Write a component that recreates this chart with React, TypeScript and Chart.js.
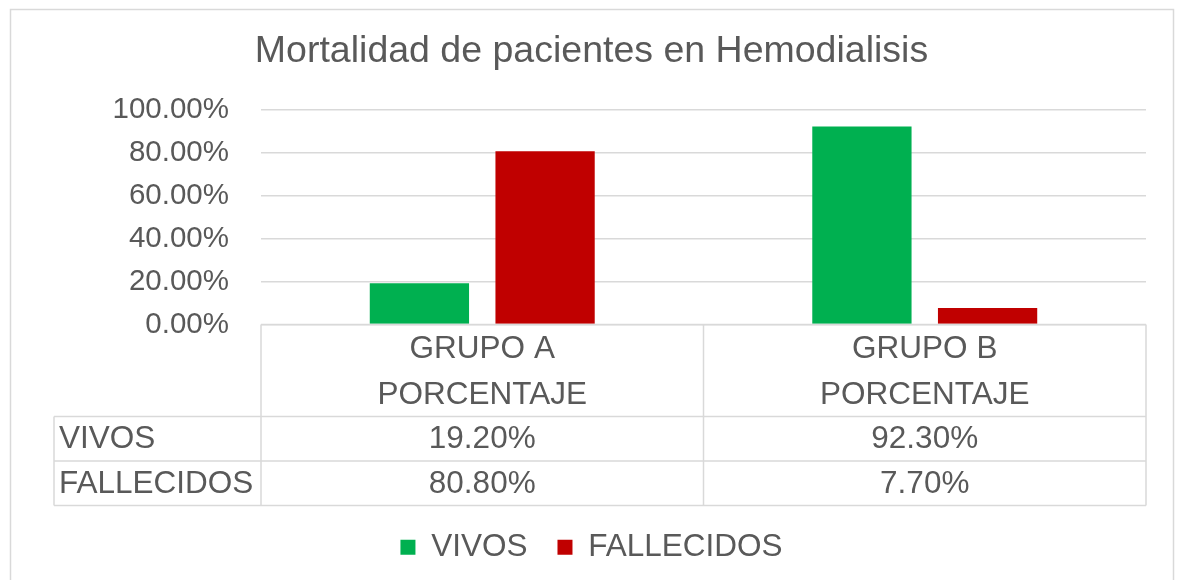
import React, { useEffect, useRef } from "react";
import { Chart, registerables } from "chart.js";

Chart.register(...registerables);

const title = "Mortalidad de pacientes en Hemodialisis";
const categories = [
  ["GRUPO A", "PORCENTAJE"],
  ["GRUPO B", "PORCENTAJE"],
];
const seriesNames = ["VIVOS", "FALLECIDOS"];
const vivos = [19.2, 92.3];
const fallecidos = [80.8, 7.7];
const yMin = 0;
const yMax = 100;
const yStep = 20;

const TEXT = "#595959";
const GRID = "#D9D9D9";
const GREEN = "#00B050";
const RED = "#C00000";
const FONT = "'Liberation Sans', Arial, sans-serif";
const FS = 31.5;

const fmt = (v: number) => v.toFixed(2) + "%";

const tablePlugin = {
  id: "dataTable",
  beforeDraw(chart: any) {
    const ctx = chart.ctx;
    ctx.save();
    ctx.fillStyle = "#ffffff";
    ctx.fillRect(0, 0, chart.width, chart.height);
    ctx.strokeStyle = GRID;
    ctx.lineWidth = 1.5;
    ctx.strokeRect(10.5, 9.5, 1163, 600);
    ctx.restore();
  },
  afterDraw(chart: any) {
    const ctx = chart.ctx;
    const { left, right, bottom } = chart.chartArea;
    const x = chart.scales.x;
    const n = categories.length;
    const bounds: number[] = [left];
    for (let i = 0; i < n - 1; i++) {
      bounds.push((x.getPixelForValue(i) + x.getPixelForValue(i + 1)) / 2);
    }
    bounds.push(right);
    const headerBottom = bottom + 92;
    const rowH = 44.5;
    const rows = [vivos, fallecidos];
    const tableBottom = headerBottom + rowH * rows.length;
    const labelLeft = 54;

    ctx.save();
    ctx.strokeStyle = GRID;
    ctx.lineWidth = 1.5;
    ctx.beginPath();
    ctx.moveTo(left, bottom);
    ctx.lineTo(right, bottom);
    bounds.forEach((b) => {
      ctx.moveTo(b, bottom);
      ctx.lineTo(b, tableBottom);
    });
    ctx.moveTo(labelLeft, headerBottom);
    ctx.lineTo(labelLeft, tableBottom);
    for (let r = 0; r <= rows.length; r++) {
      const y = headerBottom + rowH * r;
      ctx.moveTo(labelLeft, y);
      ctx.lineTo(right, y);
    }
    ctx.stroke();

    ctx.fillStyle = TEXT;
    ctx.font = `${FS}px ${FONT}`;
    ctx.textBaseline = "middle";
    rows.forEach((vals, r) => {
      const cy = headerBottom + rowH * r + rowH / 2 + 1;
      ctx.textAlign = "left";
      ctx.fillText(seriesNames[r], labelLeft + 5, cy);
      ctx.textAlign = "center";
      vals.forEach((v, i) => {
        ctx.fillText(fmt(v), (bounds[i] + bounds[i + 1]) / 2, cy);
      });
    });
    ctx.restore();
  },
};

export default function App() {
  const ref = useRef<HTMLCanvasElement | null>(null);
  useEffect(() => {
    document.body.style.margin = "0";
    if (!ref.current) return;
    const chart = new Chart(ref.current, {
      type: "bar",
      data: {
        labels: categories,
        datasets: [
          {
            label: seriesNames[0],
            data: vivos,
            backgroundColor: GREEN,
            borderWidth: 0,
            categoryPercentage: 0.568,
            barPercentage: 0.79,
          },
          {
            label: seriesNames[1],
            data: fallecidos,
            backgroundColor: RED,
            borderWidth: 0,
            categoryPercentage: 0.568,
            barPercentage: 0.79,
          },
        ],
      },
      options: {
        responsive: false,
        animation: false,
        layout: { padding: { top: 29, left: 37, right: 31, bottom: 7 } },
        plugins: {
          title: {
            display: true,
            text: title,
            color: TEXT,
            font: { family: FONT, size: 37.5, weight: "normal" },
            padding: { top: 0, bottom: 36 },
          },
          legend: {
            position: "bottom",
            labels: {
              boxWidth: 15,
              boxHeight: 15,
              padding: 30,
              color: TEXT,
              font: { family: FONT, size: FS },
            },
          },
          tooltip: { enabled: false },
        },
        scales: {
          x: {
            grid: { display: false, drawTicks: false },
            border: { display: false },
            ticks: {
              color: TEXT,
              font: { family: FONT, size: FS, lineHeight: 1.45 },
              padding: 2,
              maxRotation: 0,
              autoSkip: false,
            },
            afterFit: (s: any) => {
              s.height = 177;
            },
          },
          y: {
            min: yMin,
            max: yMax,
            grid: { color: GRID, lineWidth: 1.5, drawTicks: false },
            border: { display: false },
            ticks: {
              stepSize: yStep,
              color: TEXT,
              padding: 32,
              font: { family: FONT, size: 29.5 },
              callback: (v: any) => fmt(Number(v)),
            },
            afterFit: (s: any) => {
              s.width = 224;
            },
          },
        },
      },
      plugins: [tablePlugin],
    });
    return () => chart.destroy();
  }, []);
  return <canvas ref={ref} width={1177} height={580} />;
}
